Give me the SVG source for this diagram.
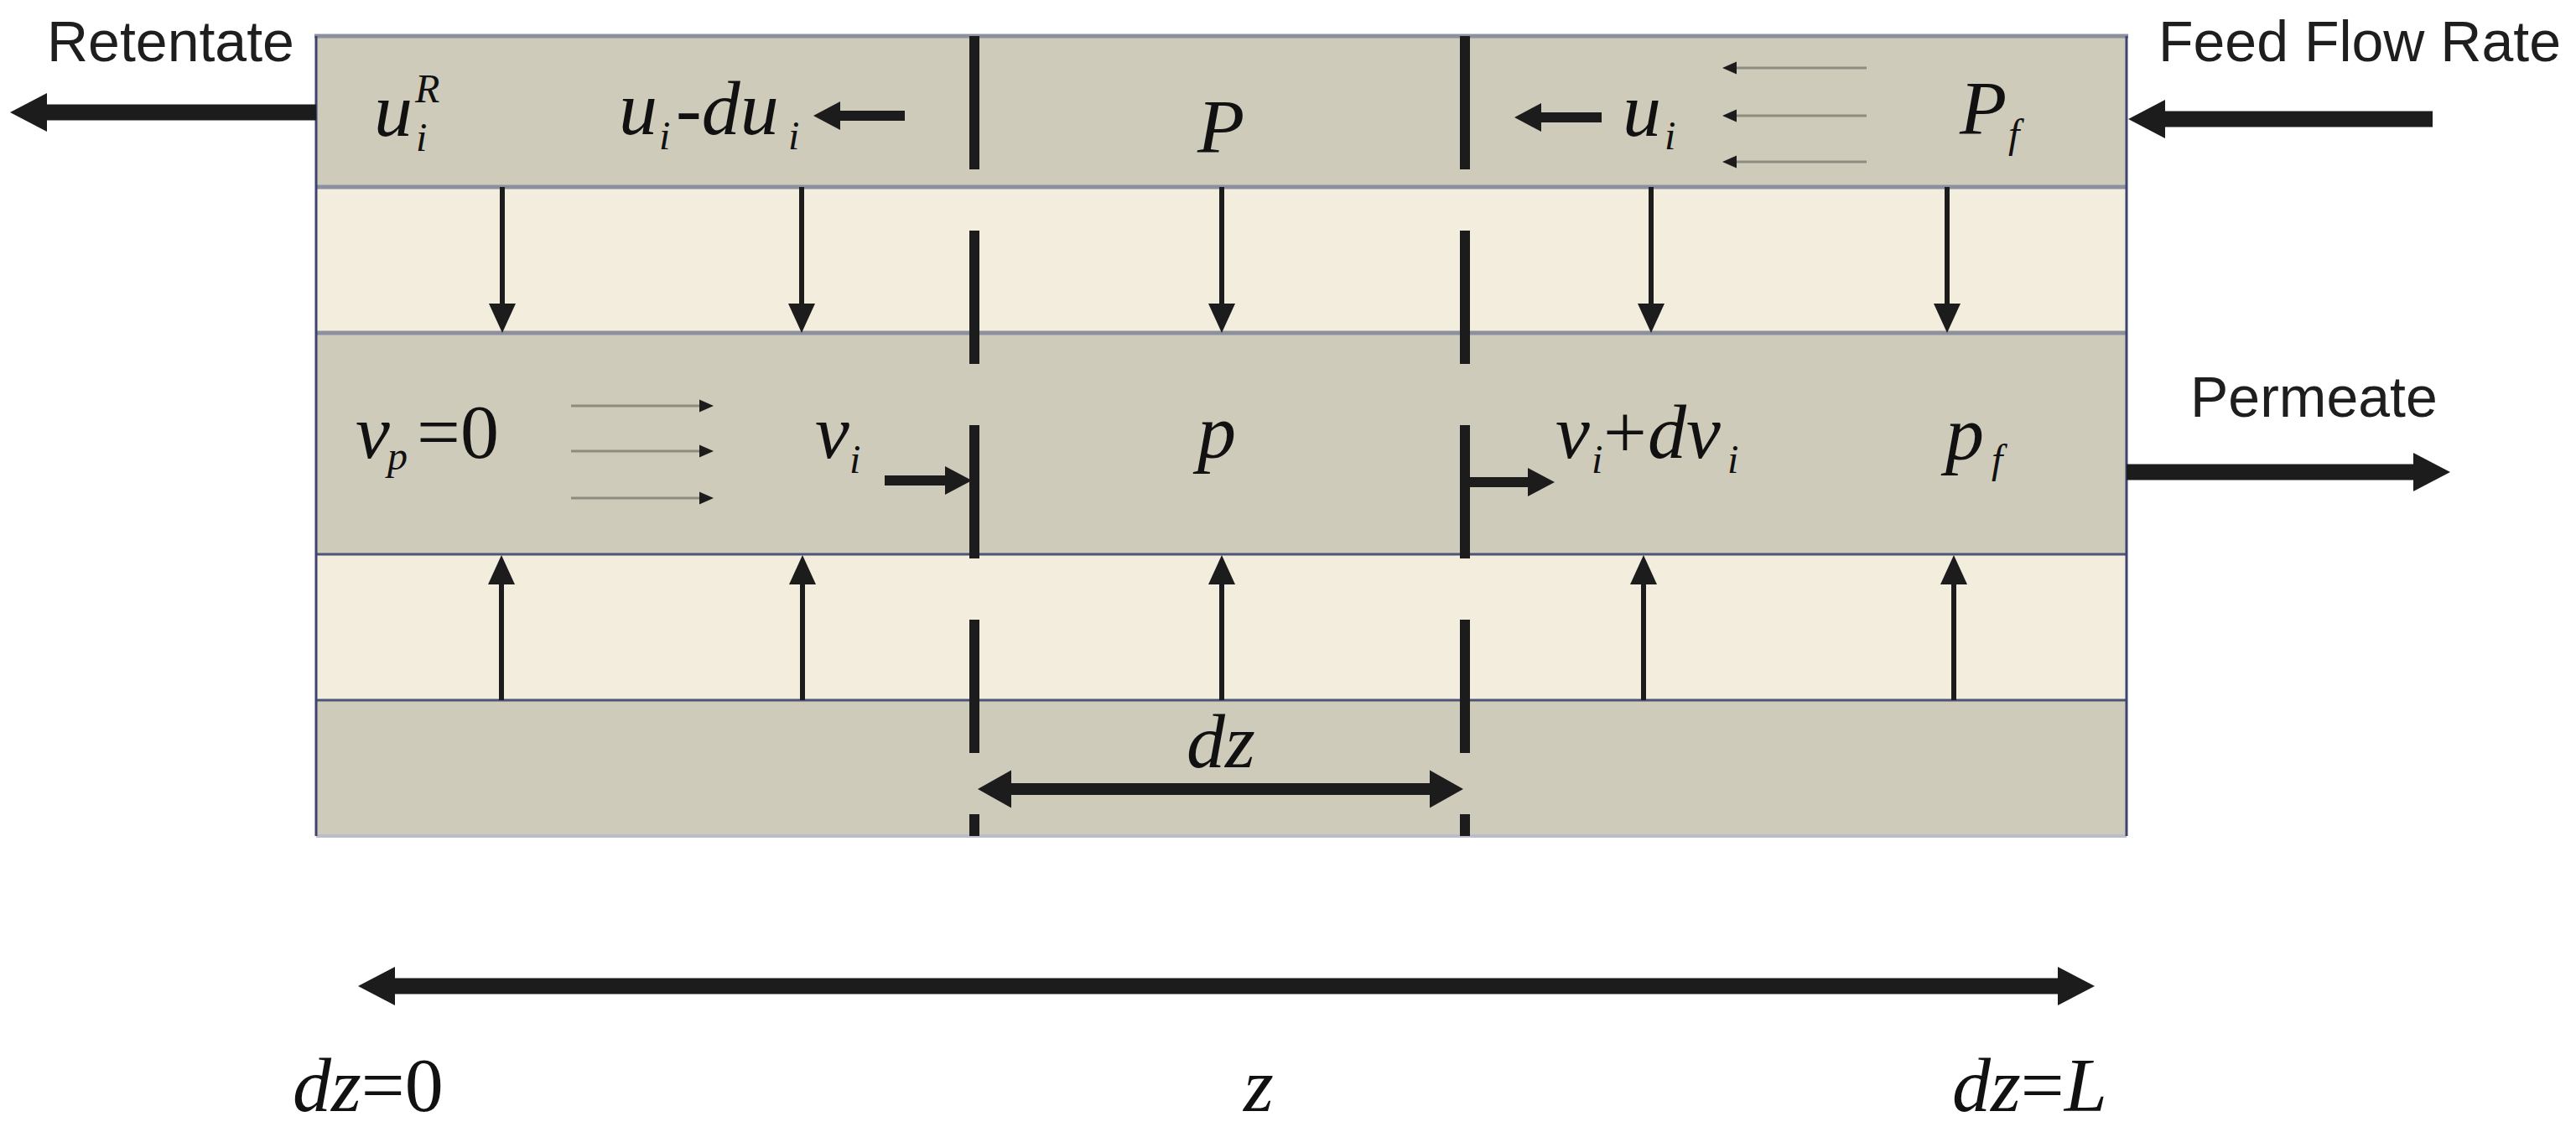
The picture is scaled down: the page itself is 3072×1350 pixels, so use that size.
<svg xmlns="http://www.w3.org/2000/svg" width="3072" height="1350" viewBox="0 0 3072 1350">
<style>
.gray{fill:#cfcbbb}
.cream{fill:#f2eddc}
.sepG{stroke:#8c8f9e;stroke-width:5}
.sepN{stroke:#4e5478;stroke-width:3}
.edge{stroke:#3e4470;stroke-width:3}
.dash{stroke:#1c1c1c;stroke-width:12;stroke-dasharray:159 73;fill:none}
.sans{font-family:"Liberation Sans",Arial,sans-serif;font-size:68px;fill:#1e1e1e}
.m{font-family:"Liberation Serif","Times New Roman",serif;font-style:italic;font-size:92px;fill:#111}
.s{font-size:48px}
.up{font-style:normal}
.big{stroke:#1c1c1c;stroke-width:19;fill:none}
.mid{stroke:#1c1c1c;stroke-width:14;fill:none}
.med{stroke:#1c1c1c;stroke-width:12;fill:none}
.vert{stroke:#1c1c1c;stroke-width:6;fill:none}
.thin{stroke:#8e8c80;stroke-width:3;fill:none}
</style>
<defs>
<marker id="hBig" markerUnits="userSpaceOnUse" markerWidth="44" markerHeight="46" refX="0" refY="23" orient="auto-start-reverse" overflow="visible"><path d="M0,0 L44,23 L0,46 Z" fill="#1c1c1c"/></marker>
<marker id="hMid" markerUnits="userSpaceOnUse" markerWidth="40" markerHeight="45" refX="0" refY="22.5" orient="auto-start-reverse" overflow="visible"><path d="M0,0 L40,22.5 L0,45 Z" fill="#1c1c1c"/></marker>
<marker id="hMed" markerUnits="userSpaceOnUse" markerWidth="32" markerHeight="34" refX="0" refY="17" orient="auto-start-reverse" overflow="visible"><path d="M0,0 L32,17 L0,34 Z" fill="#1c1c1c"/></marker>
<marker id="hVert" markerUnits="userSpaceOnUse" markerWidth="35" markerHeight="32" refX="0" refY="16" orient="auto" overflow="visible"><path d="M0,0 L35,16 L0,32 Z" fill="#1c1c1c"/></marker>
<marker id="hThin" markerUnits="userSpaceOnUse" markerWidth="17" markerHeight="15" refX="0" refY="7.5" orient="auto" overflow="visible"><path d="M0,0 L17,7.5 L0,15 Z" fill="#1c1c1c"/></marker>
</defs>
<rect width="3072" height="1350" fill="#ffffff"/>

<g id="module">
  <g id="feed-channel"><rect class="gray" x="377" y="43" width="2159" height="180"/></g>
  <g id="membrane-top"><rect class="cream" x="377" y="223" width="2159" height="174"/></g>
  <g id="permeate-channel"><rect class="gray" x="377" y="397" width="2159" height="264"/></g>
  <g id="membrane-bottom"><rect class="cream" x="377" y="661" width="2159" height="174"/></g>
  <g id="base-layer"><rect class="gray" x="377" y="835" width="2159" height="162"/></g>
  <line class="sepG" x1="375" y1="43" x2="2538" y2="43"/>
  <line class="sepG" x1="377" y1="223" x2="2536" y2="223"/>
  <line class="sepG" x1="377" y1="397" x2="2536" y2="397"/>
  <line class="sepN" x1="377" y1="661" x2="2536" y2="661"/>
  <line class="sepN" x1="377" y1="835" x2="2536" y2="835"/>
  <line x1="377" y1="997" x2="2536" y2="997" stroke="#b9bccb" stroke-width="4"/>
  <line class="edge" x1="377" y1="43" x2="377" y2="997"/>
  <line class="edge" x1="2536" y1="43" x2="2536" y2="997"/>
</g>

<g id="element-boundaries">
  <line class="dash" x1="1162" y1="43" x2="1162" y2="997"/>
  <line class="dash" x1="1747" y1="43" x2="1747" y2="997"/>
</g>

<g id="connectors">
  <line class="big" x1="377" y1="134" x2="56" y2="134" marker-end="url(#hBig)"/>
  <line class="big" x1="2901" y1="142" x2="2582" y2="142" marker-end="url(#hBig)"/>
  <line class="big" x1="2536" y1="563" x2="2878" y2="563" marker-end="url(#hBig)"/>
  <line class="big" x1="471" y1="1176" x2="2454" y2="1176" marker-start="url(#hBig)" marker-end="url(#hBig)"/>
  <line class="mid" x1="1206" y1="941" x2="1705" y2="941" marker-start="url(#hMid)" marker-end="url(#hMid)"/>
  <line class="med" x1="1079" y1="138" x2="1002" y2="138" marker-end="url(#hMed)"/>
  <line class="med" x1="1910" y1="140" x2="1838" y2="140" marker-end="url(#hMed)"/>
  <line class="med" x1="1055" y1="573" x2="1127" y2="573" marker-end="url(#hMed)"/>
  <line class="med" x1="1752" y1="575" x2="1822" y2="575" marker-end="url(#hMed)"/>
  <line class="vert" x1="599" y1="223" x2="599" y2="362" marker-end="url(#hVert)"/>
  <line class="vert" x1="956" y1="223" x2="956" y2="362" marker-end="url(#hVert)"/>
  <line class="vert" x1="1457" y1="223" x2="1457" y2="362" marker-end="url(#hVert)"/>
  <line class="vert" x1="1969" y1="223" x2="1969" y2="362" marker-end="url(#hVert)"/>
  <line class="vert" x1="2322" y1="223" x2="2322" y2="362" marker-end="url(#hVert)"/>
  <line class="vert" x1="598" y1="835" x2="598" y2="697" marker-end="url(#hVert)"/>
  <line class="vert" x1="957" y1="835" x2="957" y2="697" marker-end="url(#hVert)"/>
  <line class="vert" x1="1457" y1="835" x2="1457" y2="697" marker-end="url(#hVert)"/>
  <line class="vert" x1="1960" y1="835" x2="1960" y2="697" marker-end="url(#hVert)"/>
  <line class="vert" x1="2330" y1="835" x2="2330" y2="697" marker-end="url(#hVert)"/>
  <line class="thin" x1="2226" y1="81" x2="2071" y2="81" marker-end="url(#hThin)"/>
  <line class="thin" x1="2226" y1="138" x2="2071" y2="138" marker-end="url(#hThin)"/>
  <line class="thin" x1="2226" y1="193" x2="2071" y2="193" marker-end="url(#hThin)"/>
  <line class="thin" x1="681" y1="484" x2="834" y2="484" marker-end="url(#hThin)"/>
  <line class="thin" x1="681" y1="538" x2="834" y2="538" marker-end="url(#hThin)"/>
  <line class="thin" x1="681" y1="594" x2="834" y2="594" marker-end="url(#hThin)"/>
</g>

<g id="labels">
  <text class="sans" x="56" y="73">Retentate</text>
  <text class="sans" x="2574" y="73">Feed Flow Rate</text>
  <text class="sans" x="2612" y="497">Permeate</text>

  <text class="m"><tspan x="446" y="162">u</tspan><tspan class="s" x="496" y="180">i</tspan><tspan class="s" x="495" y="122">R</tspan></text>
  <text class="m"><tspan x="738" y="160">u</tspan><tspan class="s" x="786" y="178">i</tspan><tspan x="806" y="160">-du</tspan><tspan class="s" x="940" y="178">i</tspan></text>
  <text class="m" x="1428" y="182">P</text>
  <text class="m"><tspan x="1935" y="162">u</tspan><tspan class="s" x="1985" y="178">i</tspan></text>
  <text class="m"><tspan x="2337" y="160">P</tspan><tspan class="s" x="2395" y="176">f</tspan></text>

  <text class="m"><tspan x="424" y="546">v</tspan><tspan class="s" x="462" y="560">p</tspan><tspan class="up" x="497" y="546">=0</tspan></text>
  <text class="m"><tspan x="972" y="546">v</tspan><tspan class="s" x="1013" y="564">i</tspan></text>
  <text class="m" x="1428" y="546">p</text>
  <text class="m"><tspan x="1855" y="546">v</tspan><tspan class="s" x="1898" y="564">i</tspan><tspan class="up" x="1912" y="546">+</tspan><tspan x="1965" y="546">dv</tspan><tspan class="s" x="2060" y="564">i</tspan></text>
  <text class="m"><tspan x="2320" y="548">p</tspan><tspan class="s" x="2375" y="564">f</tspan></text>

  <text class="m" x="1415" y="915">dz</text>
  <text class="m"><tspan x="349" y="1325">dz</tspan><tspan class="up">=0</tspan></text>
  <text class="m" x="1483" y="1325">z</text>
  <text class="m"><tspan x="2328" y="1325">dz</tspan><tspan class="up">=</tspan><tspan>L</tspan></text>
</g>
</svg>
